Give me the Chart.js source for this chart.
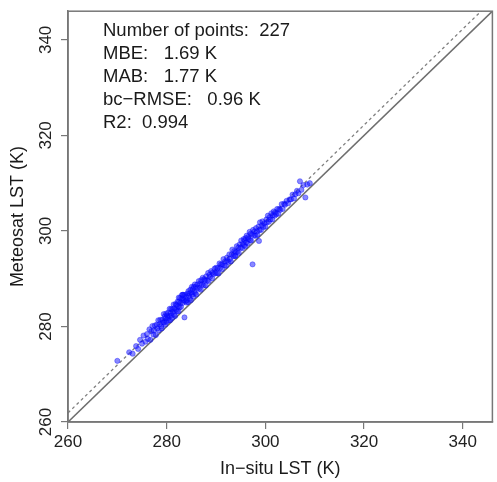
<!DOCTYPE html>
<html>
<head>
<meta charset="utf-8">
<script src="https://cdn.jsdelivr.net/npm/chart.js@4.4.1/dist/chart.umd.min.js"></script>
<style>
html,body{margin:0;padding:0;background:#fff;}
#wrap{width:497px;height:482px;position:relative;}
</style>
</head>
<body>
<div id="wrap"><canvas id="c" width="497" height="482"></canvas></div>
<script>
// In-situ LST (x) and Meteosat LST (y), in K
const insituLST = [
 270.0,272.4,273.1,273.8,274.2,274.6,275.0,275.3,275.7,276.0,
 276.2,276.5,276.7,276.9,277.1,277.3,277.4,277.6,277.8,278.0,278.1,278.3,278.4,278.6,278.7,278.9,279.0,279.1,279.3,279.4,279.5,279.6,279.7,279.8,279.9,280.0,280.1,280.2,
 280.3,280.4,280.5,280.6,280.7,280.8,280.9,281.0,281.1,281.2,281.3,281.4,281.5,281.6,281.7,281.8,281.9,282.0,282.1,282.2,282.3,282.4,282.5,282.6,282.7,282.8,282.9,283.0,283.1,283.2,283.3,283.4,283.5,283.6,283.7,283.8,283.9,284.0,282.45,283.25,
 284.1,284.2,284.3,284.4,284.5,284.6,284.7,284.8,284.9,285.0,285.1,285.2,285.3,285.4,285.5,285.6,285.7,285.8,285.9,286.0,286.2,286.3,286.5,286.6,286.8,286.9,287.0,287.2,287.3,287.5,287.6,287.8,287.9,288.0,288.2,288.4,288.5,288.7,288.8,289.0,289.2,289.3,289.5,289.7,289.9,
 290.0,290.2,290.3,290.5,290.7,290.8,291.0,291.2,291.3,291.5,291.7,291.8,292.0,292.2,292.3,292.5,292.7,292.8,293.0,293.2,293.3,293.5,293.7,293.8,294.0,294.2,294.3,294.5,294.6,294.8,295.0,295.1,295.3,295.4,295.6,295.7,295.8,295.9,296.0,293.9,
 296.1,296.2,296.4,296.5,296.6,296.8,296.9,297.0,297.1,297.3,297.4,297.5,297.7,297.8,298.0,298.1,298.3,298.4,298.6,298.8,298.9,299.1,299.3,299.4,299.6,299.8,300.0,300.2,300.3,300.5,300.7,300.9,301.0,301.2,301.4,301.5,301.7,301.9,302.0,298.7,
 302.2,302.4,302.6,302.8,303.0,303.3,303.5,303.8,304.0,304.3,304.6,304.9,305.2,305.5,305.8,306.1,306.4,306.7,307.0,307.3,307.7,308.1,308.5,309.0
];
const meteosatLST = [
 272.8,274.6,274.3,275.9,275.3,277.2,276.4,278.1,276.8,278.4,
 277.4,279.4,277.2,279.0,280.1,278.3,279.2,280.2,278.2,280.4,279.6,281.3,279.2,280.5,281.4,280.0,279.6,281.4,280.9,282.6,280.8,282.1,280.4,281.7,282.7,281.0,282.3,281.7,
 282.9,281.3,282.2,283.7,281.3,282.8,283.7,282.3,281.8,283.6,283.1,284.6,282.5,283.8,282.2,284.7,283.5,284.5,283.2,285.2,284.2,283.2,285.2,284.0,286.0,284.9,284.1,285.8,286.6,284.9,285.9,286.6,285.5,281.9,286.6,285.3,286.2,285.0,286.05,286.65,
 285.5,286.9,285.1,287.4,286.4,286.9,285.8,287.7,285.5,287.1,288.3,286.7,287.8,286.3,288.3,287.3,288.8,287.0,288.3,286.7,288.8,288.1,289.5,287.9,289.0,287.7,289.7,288.8,290.2,288.6,289.9,289.7,288.6,290.5,289.6,291.2,289.5,290.8,290.4,291.6,290.1,291.3,291.0,292.1,291.1,
 292.3,291.2,292.2,291.1,293.2,292.2,293.0,292.0,293.0,294.1,292.8,293.6,292.7,294.4,293.8,293.5,295.1,294.1,293.6,295.1,296.1,294.7,295.8,294.7,295.6,296.8,295.6,296.5,295.4,297.2,296.5,298.0,296.4,297.3,298.3,297.0,298.0,296.8,298.5,294.8,
 297.6,299.0,297.4,298.7,298.3,299.8,298.1,299.4,298.0,299.3,293.0,300.2,299.0,299.9,299.0,300.6,299.9,299.2,300.9,300.2,301.8,300.2,301.2,302.0,300.8,301.6,300.9,302.4,301.8,303.2,301.9,302.9,302.4,303.7,302.4,303.3,304.1,303.2,303.9,297.9,
 303.5,304.6,303.6,304.6,304.4,305.6,304.6,305.7,305.5,306.3,305.8,306.6,306.6,307.6,306.8,307.7,308.4,307.9,310.4,308.6,309.6,307.0,309.7,310.0
];
// reference lines (endpoints)
const oneToOneX = [260, 346];
const oneToOneY = [260, 346];
const fitLineX = [260, 346];
const fitLineY = [261.9, 348.3];
// axis
const axisMin = 260, axisMax = 346, tickStep = 20;
const xTitle = 'In\u2212situ LST (K)';
const yTitle = 'Meteosat LST (K)';
const statsLines = [
  'Number of points:  227',
  'MBE:   1.69 K',
  'MAB:   1.77 K',
  'bc\u2212RMSE:   0.96 K',
  'R2:  0.994'
];

const FONT = "'Liberation Sans', Arial, Helvetica, sans-serif";
const pts = insituLST.map((x, i) => ({x: x, y: meteosatLST[i]}));
const toXY = (xs, ys) => xs.map((x, i) => ({x: x, y: ys[i]}));

const boxPlugin = {
  id: 'boxAndStats',
  afterDraw(chart) {
    const {ctx, chartArea: a} = chart;
    ctx.save();
    ctx.strokeStyle = '#777';
    ctx.lineWidth = 1.5;
    ctx.strokeRect(a.left, a.top, a.right - a.left, a.bottom - a.top);
    ctx.fillStyle = '#1a1a1a';
    ctx.font = '18.5px ' + FONT;
    ctx.textBaseline = 'alphabetic';
    ctx.textAlign = 'left';
    statsLines.forEach((t, i) => ctx.fillText(t, 103, 36 + i * 23.1));
    ctx.restore();
  }
};

new Chart(document.getElementById('c'), {
  type: 'scatter',
  data: {
    datasets: [
      {
        data: pts,
        pointRadius: 2.6,
        pointBackgroundColor: 'rgba(20,20,255,0.5)',
        pointBorderColor: 'rgba(0,0,255,0.6)',
        pointBorderWidth: 0.6,
        order: 1
      },
      {
        data: toXY(oneToOneX, oneToOneY),
        showLine: true,
        borderColor: '#6e6e6e',
        borderWidth: 1.6,
        pointRadius: 0,
        order: 2
      },
      {
        data: toXY(fitLineX, fitLineY),
        showLine: true,
        borderColor: '#808080',
        borderWidth: 1.3,
        borderDash: [3, 3],
        pointRadius: 0,
        order: 3
      }
    ]
  },
  options: {
    responsive: false,
    animation: false,
    devicePixelRatio: 1,
    layout: {padding: {top: 5, right: 1, left: 0, bottom: 0}},
    plugins: {legend: {display: false}, tooltip: {enabled: false}},
    scales: {
      x: {
        type: 'linear',
        min: axisMin, max: axisMax,
        ticks: {stepSize: tickStep, includeBounds: false, color: '#222', font: {family: FONT, size: 17}, padding: 3, maxRotation: 0},
        grid: {drawOnChartArea: false, drawTicks: true, tickLength: 7, color: '#777', lineWidth: 1.2},
        border: {display: true, color: '#777', width: 1.5},
        title: {display: true, text: xTitle, color: '#1a1a1a', font: {family: FONT, size: 18}, padding: {top: 0, bottom: 2}},
        afterFit(s) { s.height = 60; }
      },
      y: {
        type: 'linear',
        min: axisMin, max: axisMax,
        ticks: {stepSize: tickStep, includeBounds: false, color: '#222', font: {family: FONT, size: 17}, padding: 1, minRotation: 90, maxRotation: 90, crossAlign: 'center'},
        grid: {drawOnChartArea: false, drawTicks: true, tickLength: 7, color: '#777', lineWidth: 1.2},
        border: {display: true, color: '#777', width: 1.5},
        title: {display: true, text: yTitle, color: '#1a1a1a', font: {family: FONT, size: 18}, padding: {top: 7, bottom: 0}},
        afterFit(s) { s.width = 68; }
      }
    }
  },
  plugins: [boxPlugin]
});
</script>
</body>
</html>
